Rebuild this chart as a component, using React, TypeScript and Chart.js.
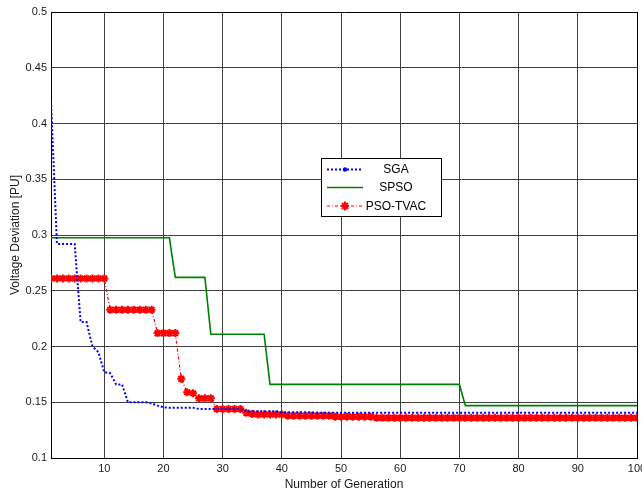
import React, { useEffect, useRef } from 'react';
import { Chart, registerables } from 'chart.js';

Chart.register(...registerables);

// Generation index (x axis)
const generations: number[] = [
  1, 2, 3, 4, 5, 6, 7, 8, 9, 10,
  11, 12, 13, 14, 15, 16, 17, 18, 19, 20,
  21, 22, 23, 24, 25, 26, 27, 28, 29, 30,
  31, 32, 33, 34, 35, 36, 37, 38, 39, 40,
  41, 42, 43, 44, 45, 46, 47, 48, 49, 50,
  51, 52, 53, 54, 55, 56, 57, 58, 59, 60,
  61, 62, 63, 64, 65, 66, 67, 68, 69, 70,
  71, 72, 73, 74, 75, 76, 77, 78, 79, 80,
  81, 82, 83, 84, 85, 86, 87, 88, 89, 90,
  91, 92, 93, 94, 95, 96, 97, 98, 99, 100,
];

const sga: number[] = [
  0.42, 0.292, 0.292, 0.292, 0.292, 0.222, 0.222, 0.2, 0.195, 0.177,
  0.176, 0.166, 0.166, 0.15, 0.15, 0.15, 0.15, 0.149, 0.147, 0.1455,
  0.145, 0.145, 0.145, 0.145, 0.145, 0.144, 0.144, 0.144, 0.144, 0.144,
  0.144, 0.144, 0.144, 0.142, 0.142, 0.142, 0.142, 0.142, 0.142, 0.141,
  0.141, 0.141, 0.141, 0.141, 0.141, 0.1405, 0.1405, 0.1405, 0.1405, 0.1405,
  0.1405, 0.1405, 0.1405, 0.1405, 0.1405, 0.1405, 0.1405, 0.1405, 0.1405, 0.1405,
  0.1405, 0.1405, 0.1405, 0.1405, 0.1405, 0.1405, 0.1405, 0.1405, 0.1405, 0.1405,
  0.1405, 0.1405, 0.1405, 0.1405, 0.1405, 0.1405, 0.1405, 0.1405, 0.1405, 0.1405,
  0.1405, 0.1405, 0.1405, 0.1405, 0.1405, 0.1405, 0.1405, 0.1405, 0.1405, 0.1405,
  0.1405, 0.1405, 0.1405, 0.1405, 0.1405, 0.1405, 0.1405, 0.1405, 0.1405, 0.1405,
];

const spso: number[] = [
  0.2975, 0.2975, 0.2975, 0.2975, 0.2975, 0.2975, 0.2975, 0.2975, 0.2975, 0.2975,
  0.2975, 0.2975, 0.2975, 0.2975, 0.2975, 0.2975, 0.2975, 0.2975, 0.2975, 0.2975,
  0.2975, 0.262, 0.262, 0.262, 0.262, 0.262, 0.262, 0.211, 0.211, 0.211,
  0.211, 0.211, 0.211, 0.211, 0.211, 0.211, 0.211, 0.166, 0.166, 0.166,
  0.166, 0.166, 0.166, 0.166, 0.166, 0.166, 0.166, 0.166, 0.166, 0.166,
  0.166, 0.166, 0.166, 0.166, 0.166, 0.166, 0.166, 0.166, 0.166, 0.166,
  0.166, 0.166, 0.166, 0.166, 0.166, 0.166, 0.166, 0.166, 0.166, 0.166,
  0.147, 0.147, 0.147, 0.147, 0.147, 0.147, 0.147, 0.147, 0.147, 0.147,
  0.147, 0.147, 0.147, 0.147, 0.147, 0.147, 0.147, 0.147, 0.147, 0.147,
  0.147, 0.147, 0.147, 0.147, 0.147, 0.147, 0.147, 0.147, 0.147, 0.147,
];

const psoTvac: number[] = [
  0.261, 0.261, 0.261, 0.261, 0.261, 0.261, 0.261, 0.261, 0.261, 0.261,
  0.233, 0.233, 0.233, 0.233, 0.233, 0.233, 0.233, 0.233, 0.212, 0.212,
  0.212, 0.212, 0.171, 0.159, 0.158, 0.1535, 0.1535, 0.1535, 0.144, 0.144,
  0.144, 0.144, 0.144, 0.1405, 0.1395, 0.139, 0.139, 0.139, 0.139, 0.139,
  0.138, 0.138, 0.138, 0.138, 0.138, 0.138, 0.138, 0.138, 0.137, 0.137,
  0.137, 0.137, 0.137, 0.137, 0.137, 0.136, 0.136, 0.136, 0.136, 0.136,
  0.136, 0.136, 0.136, 0.136, 0.136, 0.136, 0.136, 0.136, 0.136, 0.136,
  0.136, 0.136, 0.136, 0.136, 0.136, 0.136, 0.136, 0.136, 0.136, 0.136,
  0.136, 0.136, 0.136, 0.136, 0.136, 0.136, 0.136, 0.136, 0.136, 0.136,
  0.136, 0.136, 0.136, 0.136, 0.136, 0.136, 0.136, 0.136, 0.136, 0.136,
];

const xTickValues: number[] = [10, 20, 30, 40, 50, 60, 70, 80, 90, 100];
const yTickValues: number[] = [0.1, 0.15, 0.2, 0.25, 0.3, 0.35, 0.4, 0.45, 0.5];
const seriesNames: string[] = ['SGA', 'SPSO', 'PSO-TVAC'];

const FONT = "'Liberation Sans', Arial, sans-serif";
const BLUE = '#0000ff';
const GREEN = '#008000';
const RED = '#ff0000';

function drawStarMarker(ctx: CanvasRenderingContext2D, x: number, y: number, color: string) {
  ctx.save();
  ctx.strokeStyle = color;
  ctx.fillStyle = color;
  ctx.lineWidth = 2;
  ctx.setLineDash([]);
  ctx.beginPath();
  ctx.moveTo(x - 4, y); ctx.lineTo(x + 4, y);
  ctx.moveTo(x, y - 4.5); ctx.lineTo(x, y + 4.5);
  ctx.moveTo(x - 3, y - 3); ctx.lineTo(x + 3, y + 3);
  ctx.moveTo(x - 3, y + 3); ctx.lineTo(x + 3, y - 3);
  ctx.stroke();
  ctx.restore();
}

const legendPlugin = {
  id: 'insideLegend',
  afterDraw(chart: any) {
    const ctx = chart.ctx as CanvasRenderingContext2D;
    const x0 = 321.5, y0 = 158.5, w = 120, h = 58;
    ctx.save();
    ctx.fillStyle = '#ffffff';
    ctx.fillRect(x0, y0, w, h);
    ctx.strokeStyle = '#000000';
    ctx.lineWidth = 1;
    ctx.setLineDash([]);
    ctx.strokeRect(x0, y0, w, h);

    const rows = [
      { y: 169.5, color: BLUE, dash: [2, 2], lw: 2, marker: 'dot' },
      { y: 187.5, color: GREEN, dash: [], lw: 1.6, marker: 'none' },
      { y: 206, color: RED, dash: [3, 2, 1, 2], lw: 1.2, marker: 'star' },
    ];
    rows.forEach((r, i) => {
      ctx.strokeStyle = r.color;
      ctx.lineWidth = r.lw;
      ctx.setLineDash(r.dash);
      ctx.beginPath();
      ctx.moveTo(327, r.y);
      ctx.lineTo(363, r.y);
      ctx.stroke();
      ctx.setLineDash([]);
      ctx.fillStyle = r.color;
      if (r.marker === 'dot') {
        ctx.beginPath();
        ctx.arc(345, r.y, 2.2, 0, Math.PI * 2);
        ctx.fill();
      } else if (r.marker === 'star') {
        drawStarMarker(ctx, 345, r.y, r.color);
      }
      ctx.fillStyle = '#000000';
      ctx.font = `12px ${FONT}`;
      ctx.textAlign = 'center';
      ctx.textBaseline = 'middle';
      ctx.fillText(seriesNames[i], 396, r.y + 0.5);
    });
    ctx.restore();
  },
};

function toPoints(values: number[]) {
  return generations.map((g, i) => ({ x: g, y: values[i] }));
}

export default function App() {
  const canvasRef = useRef<HTMLCanvasElement | null>(null);

  useEffect(() => {
    document.body.style.margin = '0';
    const canvas = canvasRef.current;
    if (!canvas) return;
    const gridColor = (ctx: any) => {
      const v = ctx.tick && ctx.tick.value;
      if (v === 100 || v === 0.5) return '#000000';
      return '#404040';
    };
    const chart = new Chart(canvas, {
      type: 'line',
      data: {
        datasets: [
          {
            label: seriesNames[0],
            data: toPoints(sga),
            borderColor: BLUE,
            backgroundColor: BLUE,
            borderWidth: 2,
            borderDash: [2, 2],
            pointRadius: 0,
            tension: 0,
          },
          {
            label: seriesNames[1],
            data: toPoints(spso),
            borderColor: GREEN,
            backgroundColor: GREEN,
            borderWidth: 1.6,
            pointRadius: 0,
            tension: 0,
          },
          {
            label: seriesNames[2],
            data: toPoints(psoTvac),
            borderColor: RED,
            backgroundColor: RED,
            borderWidth: 1.2,
            borderDash: [3, 2, 1, 2],
            pointStyle: 'star',
            pointRadius: 4,
            pointBorderWidth: 2,
            pointBorderColor: RED,
            pointBackgroundColor: RED,
            tension: 0,
          },
        ],
      },
      options: {
        animation: false,
        responsive: false,
        maintainAspectRatio: false,
        layout: { padding: { left: 0, top: 12, right: 23, bottom: 0 } },
        plugins: {
          legend: { display: false },
          tooltip: { enabled: false },
        },
        scales: {
          x: {
            type: 'linear',
            min: 1,
            max: 100,
            afterBuildTicks: (scale: any) => {
              scale.ticks = xTickValues.map((v) => ({ value: v }));
            },
            afterFit: (scale: any) => {
              scale.height = 36;
            },
            grid: { color: gridColor, lineWidth: 1, drawTicks: false },
            border: { display: true, color: '#000000', width: 1 },
            ticks: {
              padding: 4,
              color: '#1a1a1a',
              font: { family: FONT, size: 11 },
              maxRotation: 0,
              autoSkip: false,
              callback: (v: any) => String(v),
            },
            title: {
              display: true,
              text: 'Number of Generation',
              color: '#1a1a1a',
              font: { family: FONT, size: 12 },
              padding: { top: 0, bottom: 2 },
            },
          },
          y: {
            type: 'linear',
            min: 0.1,
            max: 0.5,
            afterBuildTicks: (scale: any) => {
              scale.ticks = yTickValues.map((v) => ({ value: v }));
            },
            afterFit: (scale: any) => {
              scale.width = 51;
            },
            grid: { color: gridColor, lineWidth: 1, drawTicks: false },
            border: { display: true, color: '#000000', width: 1 },
            ticks: {
              padding: 4,
              color: '#1a1a1a',
              font: { family: FONT, size: 11 },
              autoSkip: false,
              callback: (v: any) => String(Math.round(Number(v) * 100) / 100),
            },
            title: {
              display: true,
              text: 'Voltage Deviation [PU]',
              color: '#1a1a1a',
              font: { family: FONT, size: 12 },
              padding: { top: 8, bottom: 0 },
            },
          },
        },
      },
      plugins: [legendPlugin],
    });
    return () => chart.destroy();
  }, []);

  return (
    <div style={{ position: 'absolute', left: 0, top: 0, width: 642, height: 494, overflow: 'hidden', background: '#fff' }}>
      <canvas ref={canvasRef} width={660} height={494} style={{ display: 'block', width: 660, height: 494 }} />
    </div>
  );
}
